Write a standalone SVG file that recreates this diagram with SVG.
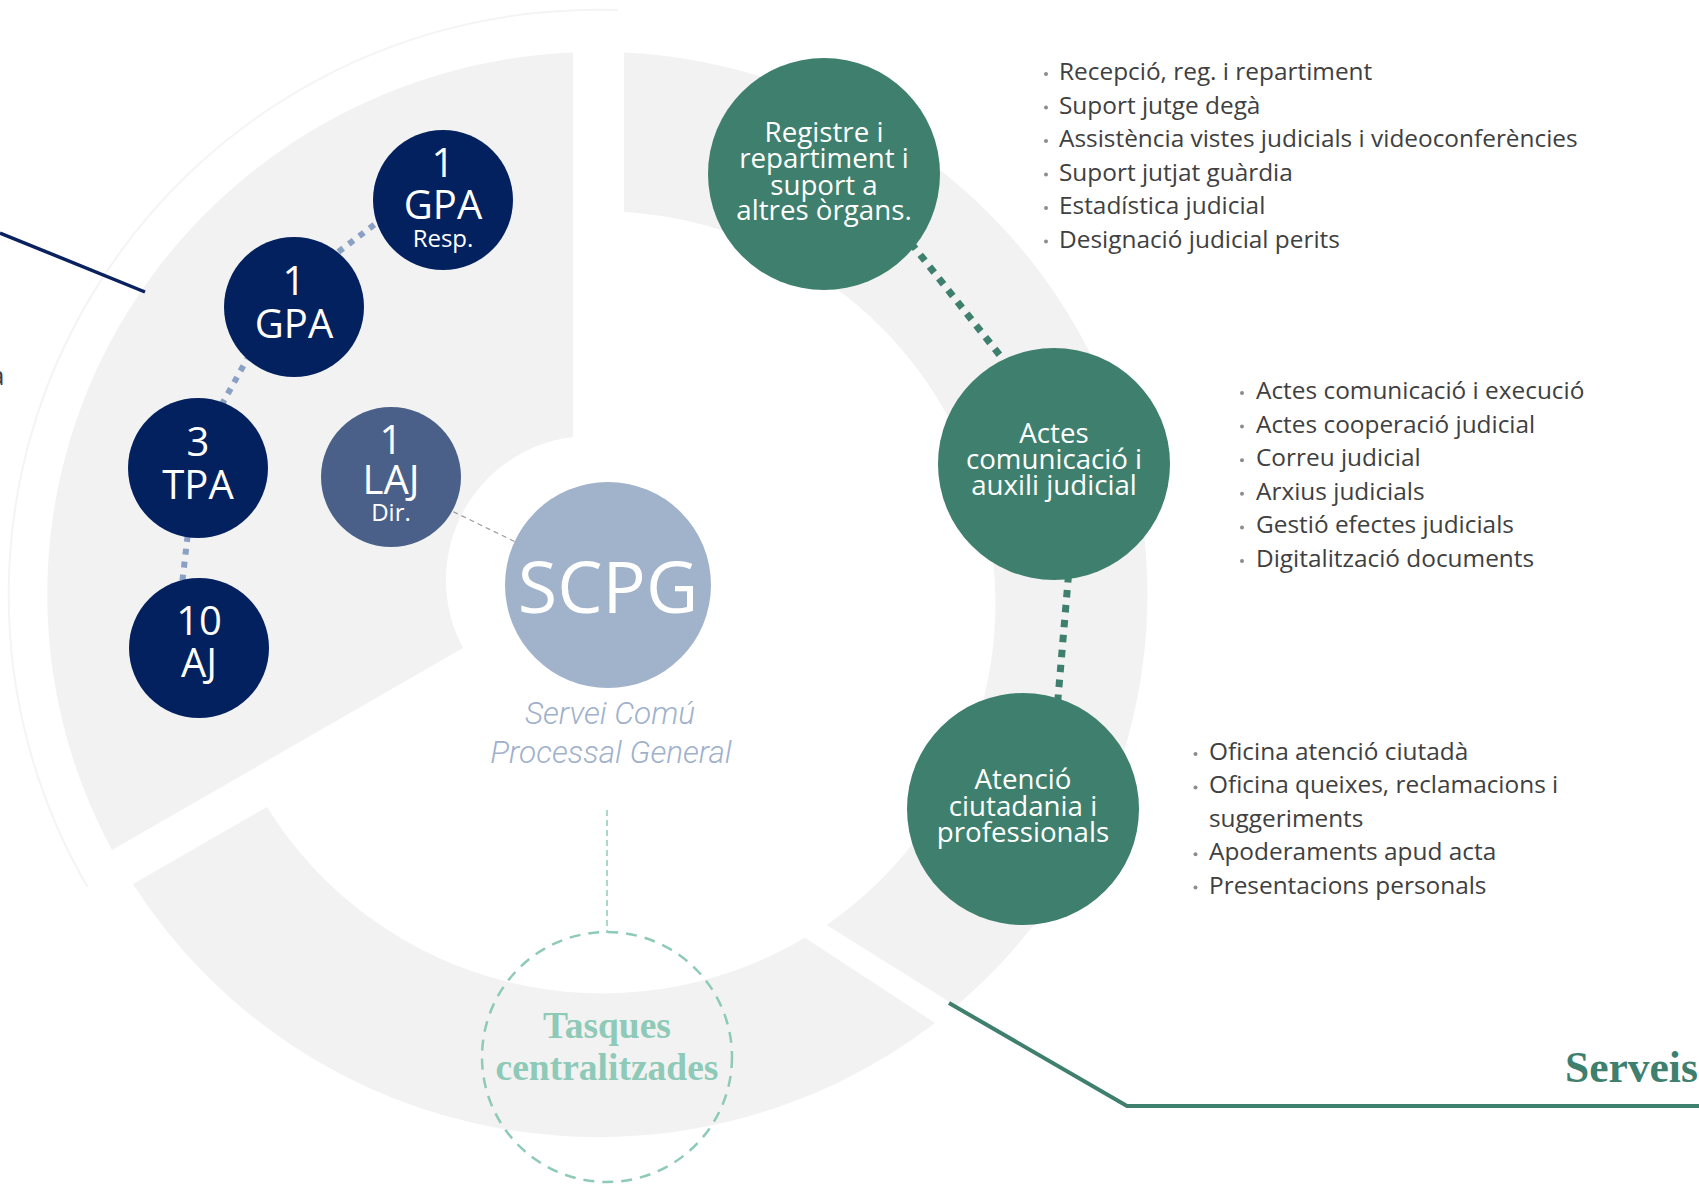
<svg xmlns="http://www.w3.org/2000/svg" width="1699" height="1184" viewBox="0 0 1699 1184">
<defs>
<style>
.band{fill:#f2f2f2}
.navy{fill:#03215f}
.green{fill:#3f7f6d}
.ntxt{font-family:"Open Sans","Liberation Sans",sans-serif;fill:#ffffff;text-anchor:middle}
.gtxt{font-family:"Open Sans","Liberation Sans",sans-serif;font-size:27.7px;fill:#ffffff;text-anchor:middle}
.list{font-family:"Open Sans","Liberation Sans",sans-serif;font-size:24.4px;fill:#404040}
.bul{fill:#8c8c8c}
.dotn{stroke:#8ba1c3;stroke-width:6;stroke-dasharray:6 7;fill:none}
.dotg{stroke:#3f7f6d;stroke-width:7;stroke-dasharray:7.5 7.5;fill:none}
.title{font-family:"Liberation Serif","Times New Roman",serif;font-weight:bold}
.sub{font-family:Roboto,"Liberation Sans",sans-serif;font-weight:300;font-style:italic;font-size:31.5px;fill:#9fb1cc;text-anchor:middle}
</style>
</defs>
<rect x="0" y="0" width="1699" height="1184" fill="#ffffff"/>

<g id="background">
<path d="M87.5,887 A589,585 0 0 1 618,10" fill="none" stroke="#f4f4f4" stroke-width="2"/>
<path class="band" d="M573,52.5 A549.5,542.5 0 0 0 112,850 L463,648 A144,144 0 0 1 573,437 Z"/>
<path class="band" d="M624,52.6 A549.5,542.5 0 0 1 956,1006 L826.7,925 A394,392 0 0 0 624,212 Z"/>
<path class="band" d="M935,1023 A549.5,542.5 0 0 1 133,884 L267,807 A394,392 0 0 0 804.9,937.7 Z"/>
<line x1="0" y1="233" x2="145" y2="292" stroke="#0a2160" stroke-width="3.5"/>
<polyline points="949,1003 1127,1106 1699,1106" fill="none" stroke="#3f7f6d" stroke-width="4"/>
<text x="-10" y="385" font-family="Open Sans, Liberation Sans, sans-serif" font-size="26" fill="#404040">a</text>
</g>

<g id="connectors">
<line class="dotn" x1="395" y1="209" x2="325" y2="262"/>
<line class="dotn" x1="256" y1="343" x2="214" y2="418.6"/>
<line class="dotn" x1="190.6" y1="510" x2="179" y2="610"/>
<line class="dotg" x1="901.6" y1="231.3" x2="1014.4" y2="373.7"/>
<line class="dotg" x1="1068.5" y1="575" x2="1057" y2="710"/>
<line x1="453.3" y1="511.7" x2="515" y2="541.7" stroke="#9a9a9a" stroke-width="1.2" stroke-dasharray="5 4"/>
<line x1="607" y1="810" x2="607" y2="933" stroke="#8ecab7" stroke-width="1.5" stroke-dasharray="6 4"/>
</g>

<g id="node-gpa-resp">
<circle class="navy" cx="443" cy="200" r="70"/>
<text class="ntxt" x="443" y="177" font-size="40">1</text>
<text class="ntxt" x="443" y="219" font-size="40">GPA</text>
<text class="ntxt" x="443" y="247" font-size="24">Resp.</text>
</g>
<g id="node-gpa">
<circle class="navy" cx="294" cy="307" r="70"/>
<text class="ntxt" x="294" y="295" font-size="40">1</text>
<text class="ntxt" x="294" y="338" font-size="40">GPA</text>
</g>
<g id="node-tpa">
<circle class="navy" cx="198" cy="468" r="70"/>
<text class="ntxt" x="198" y="456" font-size="40">3</text>
<text class="ntxt" x="198" y="499" font-size="40">TPA</text>
</g>
<g id="node-aj">
<circle class="navy" cx="199" cy="648" r="70"/>
<text class="ntxt" x="199" y="635" font-size="40">10</text>
<text class="ntxt" x="199" y="677" font-size="40">AJ</text>
</g>
<g id="node-laj">
<circle cx="391" cy="477" r="70" fill="#4a6089"/>
<text class="ntxt" x="391" y="454" font-size="40">1</text>
<text class="ntxt" x="391" y="494" font-size="40">LAJ</text>
<text class="ntxt" x="391" y="521" font-size="24">Dir.</text>
</g>

<g id="node-scpg">
<circle cx="608" cy="585" r="103" fill="#a1b2cb"/>
<text x="608" y="613" font-family="Open Sans, Liberation Sans, sans-serif" font-size="72" fill="#ffffff" text-anchor="middle">SCPG</text>
<text class="sub" x="610" y="724">Servei Comú</text>
<text class="sub" x="611" y="763">Processal General</text>
</g>

<g id="node-registre">
<circle class="green" cx="824" cy="174" r="116"/>
<text class="gtxt" x="824" y="142">Registre i</text>
<text class="gtxt" x="824" y="168">repartiment i</text>
<text class="gtxt" x="824" y="195">suport a</text>
<text class="gtxt" x="824" y="220">altres òrgans.</text>
</g>
<g id="node-actes">
<circle class="green" cx="1054" cy="464" r="116"/>
<text class="gtxt" x="1054" y="443">Actes</text>
<text class="gtxt" x="1054" y="469">comunicació i</text>
<text class="gtxt" x="1054" y="495">auxili judicial</text>
</g>
<g id="node-atencio">
<circle class="green" cx="1023" cy="809" r="116"/>
<text class="gtxt" x="1023" y="789">Atenció</text>
<text class="gtxt" x="1023" y="816">ciutadania i</text>
<text class="gtxt" x="1023" y="842">professionals</text>
</g>

<g id="node-tasques">
<circle cx="607" cy="1057" r="125" fill="none" stroke="#8ecab7" stroke-width="2.5" stroke-dasharray="11 8"/>
<text class="title" x="607" y="1038" font-size="37.5" fill="#8ecab7" text-anchor="middle">Tasques</text>
<text class="title" x="607" y="1080" font-size="37.5" fill="#8ecab7" text-anchor="middle">centralitzades</text>
</g>

<g id="list-registre">
<circle class="bul" cx="1046" cy="74" r="2"/><text class="list" x="1059" y="80">Recepció, reg. i repartiment</text>
<circle class="bul" cx="1046" cy="107.5" r="2"/><text class="list" x="1059" y="113.5">Suport jutge degà</text>
<circle class="bul" cx="1046" cy="141" r="2"/><text class="list" x="1059" y="147">Assistència vistes judicials i videoconferències</text>
<circle class="bul" cx="1046" cy="174.5" r="2"/><text class="list" x="1059" y="180.5">Suport jutjat guàrdia</text>
<circle class="bul" cx="1046" cy="208" r="2"/><text class="list" x="1059" y="214">Estadística judicial</text>
<circle class="bul" cx="1046" cy="241.5" r="2"/><text class="list" x="1059" y="247.5">Designació judicial perits</text>
</g>
<g id="list-actes">
<circle class="bul" cx="1242" cy="393" r="2"/><text class="list" x="1256" y="399">Actes comunicació i execució</text>
<circle class="bul" cx="1242" cy="426.6" r="2"/><text class="list" x="1256" y="432.6">Actes cooperació judicial</text>
<circle class="bul" cx="1242" cy="460.2" r="2"/><text class="list" x="1256" y="466.2">Correu judicial</text>
<circle class="bul" cx="1242" cy="493.8" r="2"/><text class="list" x="1256" y="499.8">Arxius judicials</text>
<circle class="bul" cx="1242" cy="527.4" r="2"/><text class="list" x="1256" y="533.4">Gestió efectes judicials</text>
<circle class="bul" cx="1242" cy="561" r="2"/><text class="list" x="1256" y="567">Digitalització documents</text>
</g>
<g id="list-atencio">
<circle class="bul" cx="1195.5" cy="754" r="2"/><text class="list" x="1209" y="760">Oficina atenció ciutadà</text>
<circle class="bul" cx="1195.5" cy="787.4" r="2"/><text class="list" x="1209" y="793.4">Oficina queixes, reclamacions i</text>
<text class="list" x="1209" y="826.8">suggeriments</text>
<circle class="bul" cx="1195.5" cy="854.2" r="2"/><text class="list" x="1209" y="860.2">Apoderaments apud acta</text>
<circle class="bul" cx="1195.5" cy="887.6" r="2"/><text class="list" x="1209" y="893.6">Presentacions personals</text>
</g>

<g id="label-serveis">
<text class="title" x="1565" y="1082" font-size="43.5" fill="#3f7f6d">Serveis</text>
</g>
</svg>
